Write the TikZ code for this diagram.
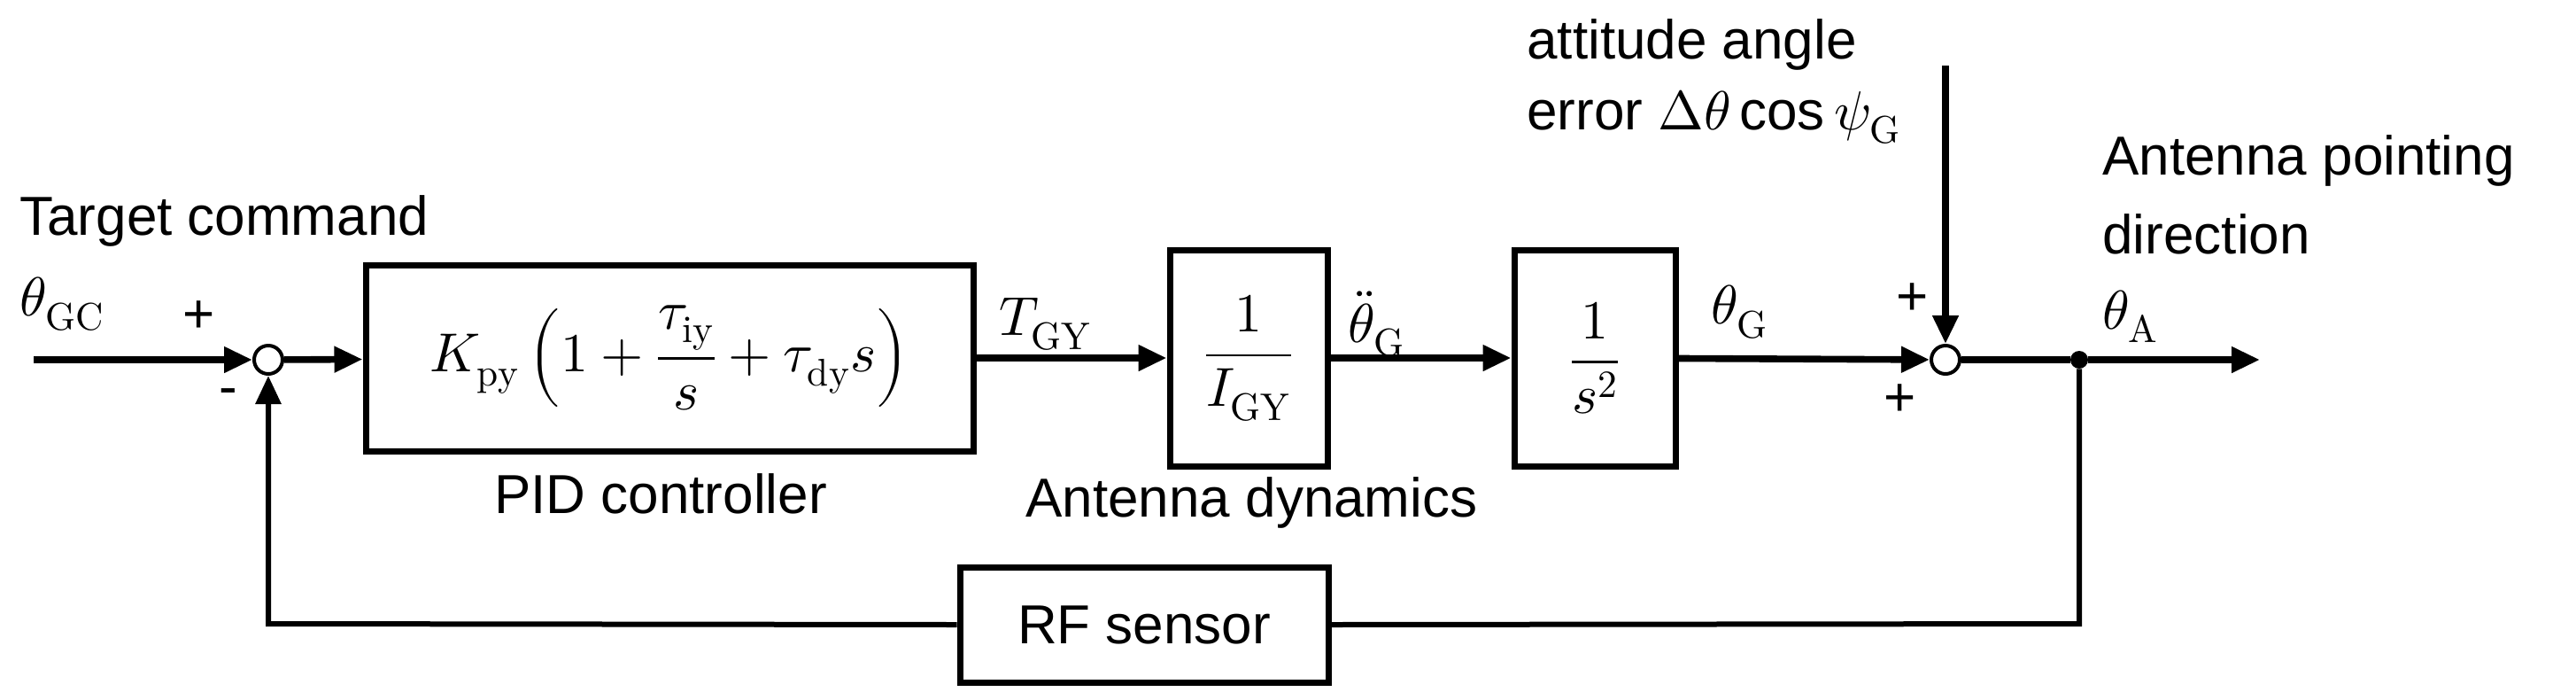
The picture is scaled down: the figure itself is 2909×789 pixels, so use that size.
\documentclass[tikz,border=0pt]{standalone}
\usepackage{amsmath}
\usepackage{fontspec}
\usepackage{unicode-math}
\setmainfont{Liberation Sans}
\setmathfont{Latin Modern Math}
\usetikzlibrary{arrows.meta}
\begin{document}
\begin{tikzpicture}[x=0.5pt,y=-0.5pt,
  every node/.style={font=\fontsize{31}{36}\selectfont, inner sep=0pt},
  blk/.style={draw, line width=3.5pt, rectangle},
  sig/.style={line width=3.8pt, -{Triangle[length=16pt,width=14pt]}},
  wire/.style={line width=3pt},
  sumc/.style={circle, draw, line width=2pt, minimum size=16pt, fill=white}]
\useasboundingbox (0,0) rectangle (2909,789);
% blocks
\node[blk, minimum width=343pt, minimum height=105pt] (pid) at (756,404) {$K_{\symup{py}}\left(1+\dfrac{\tau_{\symup{iy}}}{s}+\tau_{\symup{dy}}s\right)$};
\node[blk, minimum width=89pt, minimum height=122pt] (ig) at (1410,404) {$\dfrac{1}{I_{\symup{GY}}}$};
\node[blk, minimum width=91pt, minimum height=122pt] (s2) at (1801,404) {$\dfrac{1}{s^2}$};
\node[blk, minimum width=208pt, minimum height=65pt] (rf) at (1292,705) {RF sensor};
\node[sumc] (s1) at (303,406) {};
\node[sumc] (s2c) at (2197,406) {};
\node[circle, fill, minimum size=10pt] (j) at (2348,406) {};
\coordinate (in) at (38,406);
\coordinate (out) at (2552,406);
\coordinate (dist) at (2197,74);
\coordinate (fbr) at (2348,704);
\coordinate (fbl) at (303,704);
% connectors
\draw[sig] (in) -- (s1);
\draw[sig] (s1) -- (pid);
\draw[sig] (pid) -- (ig);
\draw[sig] (ig) -- (s2);
\draw[sig] (s2) -- (s2c);
\draw[sig] (dist) -- (s2c);
\draw[line width=3.8pt] (s2c) -- (j);
\draw[sig] (j) -- (out);
\draw[wire] (j) -- (fbr) -- (rf.east);
\draw[wire, -{Triangle[length=16pt,width=14pt]}] (rf.west) -- (fbl) -- (s1);
% labels
\node[anchor=west] (tc) at (22,249) {Target command};
\node[anchor=west] (tgc) at (22,343) {$\theta_{\symup{GC}}$};
\node (p1) at (225,358) {+};
\node (m1) at (258,448) {-};
\node[anchor=west] (tgy) at (1128,366) {$T_{\symup{GY}}$};
\node[anchor=west] (tdd) at (1522,366) {$\ddot{\theta}_{\symup{G}}$};
\node[anchor=west] (tg) at (1932,352) {$\theta_{\symup{G}}$};
\node (p2) at (2160,338) {+};
\node (p3) at (2146,452) {+};
\node[anchor=west] (att1) at (1724,50) {attitude angle};
\node[anchor=west] (att2) at (1724,132) {error $\mitDelta\theta\cos\psi_{\symup{G}}$};
\node[anchor=west] (ap1) at (2374,181) {Antenna pointing};
\node[anchor=west] (ap2) at (2374,264) {direction};
\node[anchor=west] (ta) at (2374,357) {$\theta_{\symup{A}}$};
\node (pidl) at (746,557) {PID controller};
\node[anchor=west] (adl) at (1158,567) {Antenna dynamics};
\end{tikzpicture}
\end{document}
